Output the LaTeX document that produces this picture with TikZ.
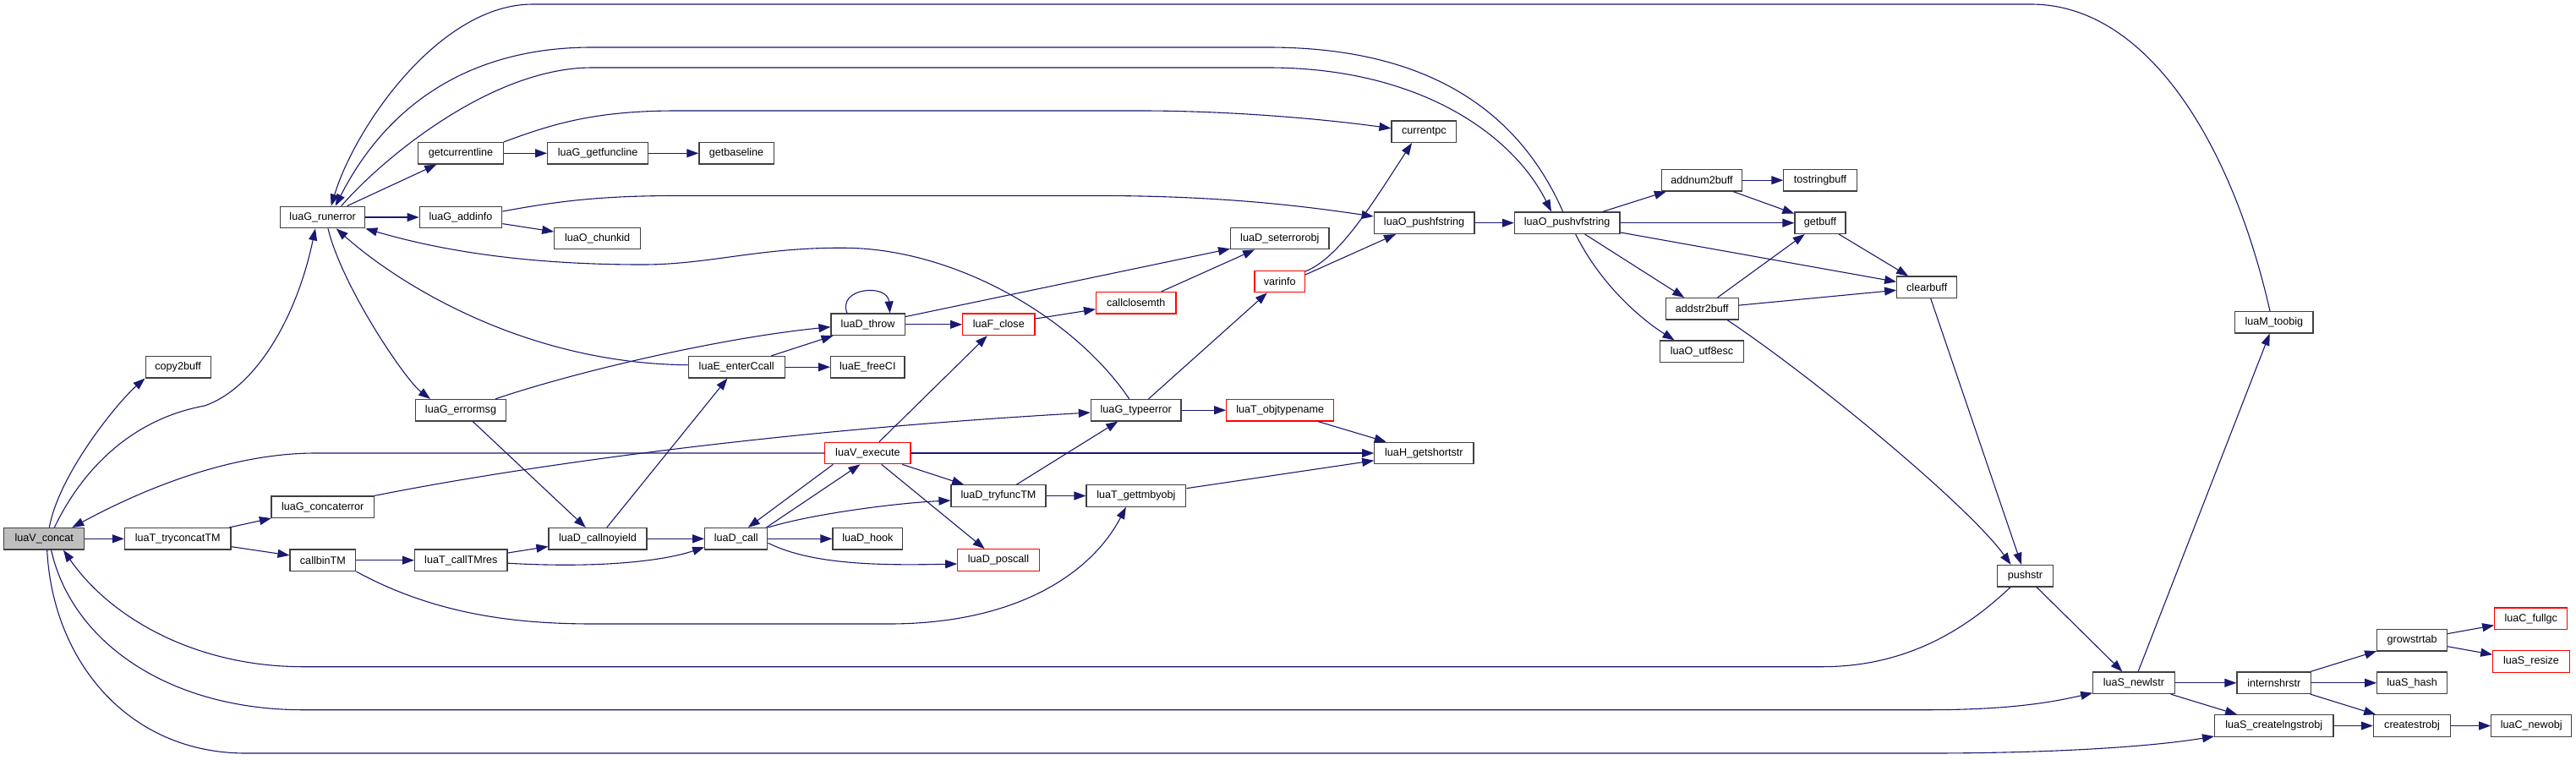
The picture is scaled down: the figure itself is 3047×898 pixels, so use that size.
\documentclass[tikz,border=0pt]{standalone}
\usepackage{fontspec}
\newfontfamily\lsans{Liberation Sans}
\newcommand\nfont{\lsans\fontsize{12.6}{15}\selectfont}
\usetikzlibrary{arrows.meta}
\definecolor{edgec}{HTML}{191970}
\definecolor{gfill}{HTML}{BFBFBF}
\tikzset{
  nb/.style={draw=black!75, line width=1.2pt, fill=white, minimum height=25.5pt, inner sep=0pt, font=\nfont},
  nr/.style={nb, draw=red},
  e/.style={draw=edgec, line width=1.1pt, -{Triangle[length=14pt,width=10pt]}},
}
\begin{document}
\begin{tikzpicture}[x=1pt, y=-1pt]
\useasboundingbox (0,0) rectangle (3047,898);
% nodes
\node[nb, fill=gfill, minimum width=95pt] (concat) at (52.3,637.3) {luaV\_concat};
\node[nb, minimum width=77pt] (copy2buff) at (210.6,434.2) {copy2buff};
\node[nb, minimum width=100pt] (runerror) at (381.7,257) {luaG\_runerror};
\node[nb, minimum width=125.5pt] (tryconcat) at (210.2,637.3) {luaT\_tryconcatTM};
\node[nb, minimum width=121.6pt] (concaterror) at (381.7,599.7) {luaG\_concaterror};
\node[nb, minimum width=77.7pt] (callbin) at (381.9,662.7) {callbinTM};
\node[nb, minimum width=100.3pt] (getcurline) at (545,181.3) {getcurrentline};
\node[nb, minimum width=97.5pt] (addinfo) at (545,257) {luaG\_addinfo};
\node[nb, minimum width=107pt] (errormsg) at (545,485.2) {luaG\_errormsg};
\node[nb, minimum width=109.5pt] (calltmres) at (545.3,662.7) {luaT\_callTMres};
\node[nb, minimum width=119.2pt] (getfuncline) at (707.2,181.3) {luaG\_getfuncline};
\node[nb, minimum width=101.8pt] (chunkid) at (706.7,282) {luaO\_chunkid};
\node[nb, minimum width=116pt] (callnoyield) at (707,637.3) {luaD\_callnoyield};
\node[nb, minimum width=88.2pt] (getbaseline) at (871,181.3) {getbaseline};
\node[nb, minimum width=87.2pt] (throw) at (1026.6,383.8) {luaD\_throw};
\node[nb, minimum width=113.9pt] (enterccall) at (871.2,434.2) {luaE\_enterCcall};
\node[nb, minimum width=87.5pt] (freeci) at (1026.3,434.2) {luaE\_freeCI};
\node[nb, minimum width=74.1pt] (dcall) at (870.8,637.3) {luaD\_call};
\node[nr, minimum width=101.3pt] (execute) at (1026.4,536) {luaV\_execute};
\node[nb, minimum width=82.9pt] (hook) at (1026.4,637.3) {luaD\_hook};
\node[nr, minimum width=85.3pt] (fclose) at (1181.3,383.8) {luaF\_close};
\node[nb, minimum width=112pt] (tryfunc) at (1181,586.5) {luaD\_tryfuncTM};
\node[nr, minimum width=96.5pt] (poscall) at (1181,662.5) {luaD\_poscall};
\node[nr, minimum width=94.4pt] (callclose) at (1343.8,358.3) {callclosemth};
\node[nb, minimum width=106.7pt] (typeerror) at (1343.7,485.2) {luaG\_typeerror};
\node[nb, minimum width=117.7pt] (gettm) at (1343.9,586.5) {luaT\_gettmbyobj};
\node[nr, minimum width=127pt] (objtype) at (1514.2,485.2) {luaT\_objtypename};
\node[nb, minimum width=116.4pt] (seterr) at (1513.8,282) {luaD\_seterrorobj};
\node[nr, minimum width=59.3pt] (varinfo) at (1513.7,333) {varinfo};
\node[nb, minimum width=76.6pt] (currentpc) at (1684.3,155.8) {currentpc};
\node[nb, minimum width=118.8pt] (pushf) at (1684.6,263.7) {luaO\_pushfstring};
\node[nb, minimum width=117.3pt] (getshort) at (1684.4,536) {luaH\_getshortstr};
\node[nb, minimum width=124.6pt] (pushvf) at (1853.7,263.7) {luaO\_pushvfstring};
\node[nb, minimum width=95pt] (addnum) at (2012.9,213.2) {addnum2buff};
\node[nb, minimum width=86.3pt] (tostr) at (2153,213.2) {tostringbuff};
\node[nb, minimum width=60.1pt] (getbuff) at (2153,263.7) {getbuff};
\node[nb, minimum width=85.8pt] (addstr) at (2013.2,365.3) {addstr2buff};
\node[nb, minimum width=98.9pt] (utf8) at (2013,415.7) {luaO\_utf8esc};
\node[nb, minimum width=71pt] (clearbuff) at (2279.2,339.8) {clearbuff};
\node[nb, minimum width=65.5pt] (pushstr) at (2395.5,681.2) {pushstr};
\node[nb, minimum width=92.5pt] (toobig) at (2689.8,381.3) {luaM\_toobig};
\node[nb, minimum width=96.4pt] (newlstr) at (2523.9,807.8) {luaS\_newlstr};
\node[nb, minimum width=87.6pt] (intern) at (2689.8,807.8) {internshrstr};
\node[nb, minimum width=140.4pt] (createlng) at (2689.8,858.5) {luaS\_createlngstrobj};
\node[nb, minimum width=82.7pt] (grow) at (2853.1,757.2) {growstrtab};
\node[nb, minimum width=82.7pt] (hash) at (2853.1,807.8) {luaS\_hash};
\node[nb, minimum width=91.5pt] (createstr) at (2853.1,858.5) {createstrobj};
\node[nr, minimum width=86.1pt] (fullgc) at (2993.8,731.8) {luaC\_fullgc};
\node[nr, minimum width=90.4pt] (resize) at (2994,782.5) {luaS\_resize};
\node[nb, minimum width=94.9pt] (newobj) at (2994.2,858.5) {luaC\_newobj};
% straight edges
\draw[e] (concat) -- (tryconcat);
\draw[e] (tryconcat) -- (concaterror);
\draw[e] (tryconcat) -- (callbin);
\draw[e] (callbin) -- (calltmres);
\draw[e] (calltmres) -- (callnoyield);
\draw[e] (callnoyield) -- (dcall);
\draw[e] (dcall) -- (hook);
\draw[e] (runerror) -- (addinfo);
\draw[e] (runerror) -- (getcurline);
\draw[e] (getcurline) -- (getfuncline);
\draw[e] (getfuncline) -- (getbaseline);
\draw[e] (addinfo) -- (chunkid);
\draw[e] (errormsg) -- (callnoyield);
\draw[e] (callnoyield) -- (enterccall);
\draw[e] (enterccall) -- (throw);
\draw[e] (enterccall) -- (freeci);
\draw[e] (throw) -- (fclose);
\draw[e] (fclose) -- (callclose);
\draw[e] (callclose) -- (seterr);
\draw[e] (throw) -- (seterr);
\draw[e] ([xshift=-2pt]dcall.north east) -- ([xshift=-9pt]execute.south);
\draw[e] ([xshift=-41pt]execute.south) -- ([xshift=14pt]dcall.north);
\draw[e] (execute) -- (fclose);
\draw[e] (execute) -- (tryfunc);
\draw[e] (execute) -- (poscall);
\draw[e] (execute) -- (getshort);
\draw[e] (tryfunc) -- (typeerror);
\draw[e] (tryfunc) -- (gettm);
\draw[e] (gettm) -- (getshort);
\draw[e] (typeerror) -- (objtype);
\draw[e] (objtype) -- (getshort);
\draw[e] (typeerror) -- (varinfo);
\draw[e] ([yshift=8pt]varinfo.east) -- ([xshift=-33.6pt]pushf.south);
\draw[e] (pushf) -- (pushvf);
\draw[e] (pushvf) -- (addnum);
\draw[e] (pushvf) -- (getbuff);
\draw[e] (pushvf) -- (clearbuff);
\draw[e] (pushvf) -- (addstr);
\draw[e] (addnum) -- (tostr);
\draw[e] (addnum) -- (getbuff);
\draw[e] (addstr) -- (getbuff);
\draw[e] (addstr) -- (clearbuff);
\draw[e] (getbuff) -- (clearbuff);
\draw[e] (clearbuff) -- (pushstr);
\draw[e] (pushstr) -- (newlstr);
\draw[e] (newlstr) -- (toobig);
\draw[e] (newlstr) -- (intern);
\draw[e] (newlstr) -- (createlng);
\draw[e] (intern) -- (grow);
\draw[e] (intern) -- (hash);
\draw[e] (intern) -- (createstr);
\draw[e] (createlng) -- (createstr);
\draw[e] (createstr) -- (newobj);
\draw[e] (grow) -- (fullgc);
\draw[e] (grow) -- (resize);
% curved edges
\draw[e] ([xshift=6pt]concat.north) .. controls (70,560) and (140,475) .. (copy2buff.south west);
\draw[e] ([xshift=12pt]concat.north) .. controls (100,550) and (160,495) .. (242,480) .. controls (300,460) and (350,380) .. ([xshift=-8.7pt]runerror.south);
\draw[e] (execute.west) -- (373,536) .. controls (250,536) and (130,600) .. ([xshift=33pt]concat.north);
\draw[e] ([xshift=-17.5pt]pushstr.south) .. controls (2330,740) and (2260,788.7) .. (2155,788.7) -- (359,788.7) .. controls (230,788.7) and (130,730) .. ([xshift=22.7pt]concat.south);
\draw[e] ([xshift=8.3pt]concat.south) .. controls (85,760) and (200,839.7) .. (359,839.7) -- (2280,839.7) .. controls (2380,839.7) and (2430,830) .. ([yshift=-11.9pt]newlstr.west);
\draw[e] ([xshift=3.4pt]concat.south) .. controls (62,780) and (150,891) .. (291,891) -- (2280,891) .. controls (2420,891) and (2540,884) .. ([yshift=-12.5pt]createlng.west);
\draw[e] ([xshift=-4.8pt]toobig.north) .. controls (2640,170) and (2540,5) .. (2402,5) -- (630,5) .. controls (520,5) and (420,150) .. ([xshift=10pt]runerror.north);
\draw[e] ([xshift=-5pt]pushvf.north) .. controls (1800,140) and (1700,56) .. (1500,56) -- (700,56) .. controls (560,56) and (460,120) .. ([xshift=15pt]runerror.north);
\draw[e] ([xshift=22pt]runerror.north) .. controls (450,190) and (580,80) .. (700,80) -- (1500,80) .. controls (1680,80) and (1790,160) .. ([xshift=-18.7pt]pushvf.north);
\draw[e] (getcurline.north east) .. controls (650,148) and (700,131) .. (800,131) -- (1350,131) .. controls (1450,131) and (1560,140) .. ([yshift=4pt]currentpc.west);
\draw[e] ([yshift=7pt]addinfo.east) .. controls (650,240) and (700,231.5) .. (800,231.5) -- (1300,231.5) .. controls (1450,231.5) and (1550,245) .. ([yshift=7.7pt]pushf.west);
\draw[e] ([xshift=-8pt]typeerror.north) .. controls (1270,375) and (1130,295) .. (1002,293.3) .. controls (900,292) and (840,313) .. (760,313) .. controls (620,313) and (520,296) .. (runerror.south east);
\draw[e] ([yshift=2.5pt]enterccall.west) .. controls (620,430) and (470,335) .. ([xshift=16pt]runerror.south);
\draw[e] ([xshift=-13pt]errormsg.north east) .. controls (680,440) and (850,400) .. ([yshift=-2.9pt]throw.west);
\draw[e] ([xshift=6.3pt]runerror.south) .. controls (405,340) and (480,450) .. ([xshift=-36pt]errormsg.north);
\draw[e] (concaterror.north east) .. controls (600,555) and (900,510) .. ([yshift=-2.8pt]typeerror.west);
\draw[e] (callbin.south east) .. controls (520,730) and (620,738) .. (703,738) -- (1051,738) .. controls (1200,738) and (1290,680) .. ([xshift=-12pt]gettm.south);
\draw[e] ([yshift=-3.5pt]calltmres.east) .. controls (700,672) and (780,665) .. ([yshift=-10pt]dcall.west);
\draw[e] (dcall.north east) .. controls (960,608) and (1060,595) .. ([yshift=-5.5pt]tryfunc.west);
\draw[e] ([yshift=-5pt]dcall.east) .. controls (960,668) and (1040,669) .. ([yshift=-4.5pt]poscall.west);
\draw[e] ([yshift=12pt]varinfo.east) .. controls (1585,305) and (1625,238) .. ([xshift=-14.3pt]currentpc.south);
\draw[e] ([xshift=10pt]pushvf.south) .. controls (1895,340) and (1945,380) .. ([xshift=-32.5pt]utf8.north);
\draw[e] ([xshift=30pt]addstr.south) .. controls (2150,450) and (2330,600) .. ([xshift=-17pt]pushstr.north);
\draw[e] ([xshift=-24.6pt]throw.north) .. controls (990,340) and (1050,335) .. ([xshift=26pt]throw.north);
\end{tikzpicture}
\end{document}
